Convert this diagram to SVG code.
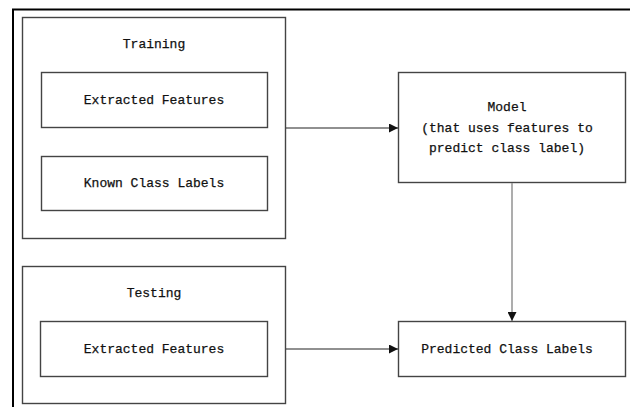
<svg xmlns="http://www.w3.org/2000/svg" width="630" height="407" viewBox="0 0 630 407">
<style>
.frame{fill:none;stroke:#000;stroke-width:2}
.box{fill:#fff;stroke:#444;stroke-width:1.4}
.t{font-family:"Liberation Mono",monospace;font-size:13px;fill:#111;stroke:#111;stroke-width:0.25;text-anchor:middle;dominant-baseline:central}
.c{fill:none;stroke:#222;stroke-width:1.2}
.cg{fill:none;stroke:#999;stroke-width:1.6}
</style>
<defs>
<marker id="ah" viewBox="0 0 10 10" refX="10" refY="5" markerWidth="9" markerHeight="9" markerUnits="userSpaceOnUse" orient="auto">
<path d="M0,0 L10,5 L0,10 z" fill="#111"/>
</marker>
</defs>
<rect x="0" y="0" width="630" height="407" fill="#fff"/>
<path class="frame" d="M13,407 V9.5 H630"/>
<g id="training">
<rect class="box" x="22.5" y="17.5" width="263" height="221"/>
<text class="t" x="154" y="44">Training</text>
</g>
<g id="train-features">
<rect class="box" x="41.5" y="72.5" width="226" height="55"/>
<text class="t" x="154" y="100">Extracted Features</text>
</g>
<g id="known-labels">
<rect class="box" x="41.5" y="156.5" width="226" height="54"/>
<text class="t" x="154" y="183">Known Class Labels</text>
</g>
<g id="testing">
<rect class="box" x="22.5" y="266.5" width="263" height="137"/>
<text class="t" x="154" y="293">Testing</text>
</g>
<g id="test-features">
<rect class="box" x="40.5" y="321.5" width="227" height="55"/>
<text class="t" x="154" y="349">Extracted Features</text>
</g>
<g id="model">
<rect class="box" x="398.5" y="72.5" width="227" height="110"/>
<text class="t" x="507" y="107">Model</text>
<text class="t" x="507" y="128">(that uses features to</text>
<text class="t" x="507" y="148">predict class label)</text>
</g>
<g id="predicted">
<rect class="box" x="398.5" y="321.5" width="227" height="55"/>
<text class="t" x="507" y="349">Predicted Class Labels</text>
</g>
<g id="connectors">
<line class="c" x1="286" y1="128" x2="398" y2="128" marker-end="url(#ah)"/>
<line class="c" x1="286" y1="349" x2="398" y2="349" marker-end="url(#ah)"/>
<line class="cg" x1="512" y1="183" x2="512" y2="321" marker-end="url(#ah)"/>
</g>
</svg>
